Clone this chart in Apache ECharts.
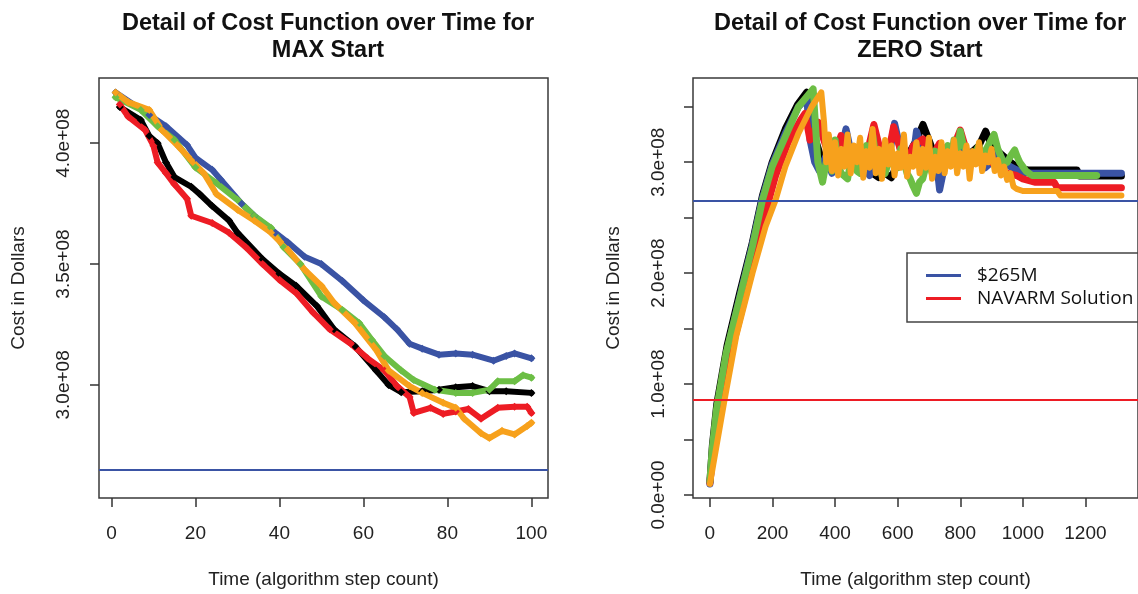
<!DOCTYPE html>
<html>
<head>
<meta charset="utf-8">
<script src="https://cdn.jsdelivr.net/npm/echarts@6/dist/echarts.min.js"></script>
<style>
  html, body { margin: 0; padding: 0; background: #fff; }
  #main { width: 1138px; height: 594px; }
</style>
</head>
<body>
<div id="main"></div>
<script>
// values in millions of dollars, x = algorithm step
var maxBlack = [[2,415],[7,409.6],[9,403],[11,400],[13,392],[15,386],[19,382],[21,379],[24,374],[28,368],[30,363],[36,352],[40,346],[44,341],[49,332.5],[53,323],[58,316],[63,306],[66,300],[69,297],[74,297.4],[78,298],[82,299],[86,299.5],[90,297.4],[94,297.4],[100,296.7]];
var maxRed = [[2,416],[4,411],[8,405.5],[10,399],[11,392],[13,387.6],[15,383],[18,377],[19,370],[24,367],[28,363],[32,357],[36,350],[40,343.5],[44,338],[48,330],[52,323],[57,317],[61,311],[65,306],[68,299.5],[71,295],[72,288.4],[76,290.5],[79,288],[82,289],[85,290],[88,286],[92,290.5],[96,291],[99,291],[100,288.4]];
var maxBlue = [[1,421],[9,411.7],[13,407],[18,399.3],[20,394],[24,389],[26,385],[31,375],[34,370],[39,363],[42,359],[46,353],[50,350],[55,343],[60,335],[65,328],[68,323],[71,317],[74,315],[78,312.5],[82,313],[86,312.5],[91,310],[94,312],[96,313],[100,311]];
var maxGreen = [[1,419],[7,413.8],[11,407],[15,401.4],[20,390],[25,383.5],[30,376.6],[34,370],[38,365],[41,357],[45,350],[50,336.6],[55,331],[59,325.6],[62,318.7],[65,312],[69,306],[72,302],[77,298],[82,296.7],[86,296.7],[90,298],[92,301.5],[96,301.5],[98,304],[100,303]];
var maxOrange = [[1,421],[4,417],[9,413.8],[12,405.5],[16,398.6],[19,393],[22,387.6],[25,379],[30,372.5],[34,368],[38,363],[42,356],[46,347.7],[50,341],[53,334],[58,325.6],[63,314.6],[66,306],[71,299.5],[74,296.7],[79,292.6],[82,290.5],[84,286],[88,280],[90,278],[93,281],[96,279.5],[99,283],[100,284.3]];

var zeroBlack = [[0,12],[8,45],[22,82],[55,135],[95,182],[136,228],[168,270],[199,300],[241,330],[280,352],[309,363],[320,330],[340,318],[360,300],[380,310],[400,295],[420,305],[440,300],[460,310],[480,295],[500,300],[520,290],[540,286],[560,290],[580,286],[600,300],[620,305],[640,310],[660,320],[681,334],[700,320],[720,305],[740,300],[760,310],[780,305],[800,315],[820,305],[840,310],[860,315],[881,328],[900,315],[920,310],[940,305],[960,300],[980,296],[1000,294],[1016,293],[1173,293],[1180,287.5],[1315,287.5]];
var zeroBlue = [[0,10],[10,45],[25,80],[55,130],[95,178],[136,226],[168,268],[199,298],[241,326],[283,350],[310,358],[320,320],[335,300],[350,292],[370,305],[390,290],[410,300],[435,330],[450,310],[470,295],[490,300],[510,288],[530,300],[550,310],[570,300],[590,335],[610,310],[630,295],[650,305],[660,328],[680,310],[700,300],[720,310],[734,275],[745,290],[760,305],[780,300],[800,315],[820,298],[840,300],[860,305],[880,295],[900,300],[920,310],[940,300],[960,296],[980,293],[1000,291],[1027,290],[1315,290]];
var zeroRed = [[0,11],[10,38],[30,75],[65,125],[105,170],[145,215],[178,255],[210,288],[250,318],[290,338],[304,344],[320,320],[346,336],[370,315],[390,300],[419,324],[440,305],[460,295],[480,315],[500,305],[524,334],[545,310],[565,300],[587,332],[610,310],[630,300],[650,315],[681,321],[700,300],[720,310],[734,317],[760,305],[780,315],[800,329],[820,310],[840,305],[860,300],[880,305],[900,300],[920,295],[950,290],[980,288],[1000,285],[1038,282],[1100,282],[1110,277],[1315,277]];
var zeroGreen = [[0,12],[7,40],[21,77],[52,128],[94,176],[136,224],[168,266],[199,296],[241,323],[283,350],[330,366],[345,300],[360,282],[375,305],[390,292],[400,320],[410,296],[420,290],[440,285],[450,300],[460,305],[470,292],[480,290],[490,305],[500,315],[510,298],[520,325],[530,305],[540,300],[550,288],[560,290],[570,300],[580,310],[590,295],[600,295],[610,312],[620,300],[630,290],[640,285],[650,278],[660,272],[670,282],[680,285],[690,296],[700,300],[710,290],[720,310],[730,298],[740,295],[750,308],[760,315],[770,300],[780,320],[790,310],[800,328],[810,315],[820,310],[830,298],[840,300],[850,310],[860,315],[870,302],[880,310],[895,318],[908,325],[920,312],[930,305],[940,298],[950,300],[962,306],[974,311],[982,305],[990,300],[1000,296],[1010,292],[1030,288],[1236,288]];
var zeroOrange = [[0,10],[47,86],[84,143],[136,200],[178,242],[210,266],[241,296],[283,326],[325,350],[356,363],[365,335],[372,300],[380,325],[390,292],[400,318],[410,288],[420,312],[430,296],[440,325],[450,290],[460,315],[470,300],[480,322],[490,286],[500,310],[510,295],[520,330],[530,290],[540,312],[550,285],[560,320],[570,298],[580,315],[590,288],[600,308],[610,295],[620,325],[630,287],[640,305],[650,296],[660,318],[670,290],[680,312],[690,295],[700,322],[710,285],[720,305],[730,292],[740,318],[750,290],[760,310],[770,296],[780,320],[790,290],[800,308],[810,296],[820,315],[830,285],[840,310],[850,298],[860,318],[870,292],[880,306],[890,300],[900,312],[910,292],[920,302],[930,288],[940,296],[950,284],[960,290],[970,278],[980,276],[1000,274],[1110,274],[1120,270],[1315,270]];

var target265 = 265;
var navarmSolution = 86;

var maxXTicks = [0, 20, 40, 60, 80, 100];
var maxYTicks = [300, 350, 400];
var maxYLabels = ['3.0e+08', '3.5e+08', '4.0e+08'];
var zeroXTicks = [0, 200, 400, 600, 800, 1000, 1200];
var zeroYTicks = [0, 50, 100, 150, 200, 250, 300, 350];
var zeroYLabelTicks = [0, 100, 200, 300];
var zeroYLabels = ['0.0e+00', '1.0e+08', '2.0e+08', '3.0e+08'];

var colors = { black: '#000000', red: '#ED1C24', blue: '#3A53A4', green: '#6CBE45', orange: '#F7A11C' };
var font = "'Liberation Sans', Arial, sans-serif";
var txt = '#222';

function xAxisOf(gridIndex, min, max, ticks) {
  return {
    type: 'value', gridIndex: gridIndex, min: min, max: max,
    name: 'Time (algorithm step count)', nameLocation: 'middle', nameGap: 72,
    nameTextStyle: { fontFamily: font, fontSize: 19, color: txt },
    axisLine: { show: false, onZero: false },
    axisTick: { show: true, length: 9, customValues: ticks, lineStyle: { color: '#333', width: 1.5 } },
    axisLabel: { customValues: ticks, margin: 26, fontFamily: font, fontSize: 19, color: txt,
      formatter: function (v) { return String(v); } },
    splitLine: { show: false }
  };
}
function yAxisOf(gridIndex, min, max, ticks, labelTicks, labels, gap, margin) {
  return {
    type: 'value', gridIndex: gridIndex, min: min, max: max,
    name: 'Cost in Dollars', nameLocation: 'middle', nameGap: gap,
    nameTextStyle: { fontFamily: font, fontSize: 19, color: txt },
    axisLine: { show: false, onZero: false },
    axisTick: { show: true, length: 9, customValues: ticks, lineStyle: { color: '#333', width: 1.5 } },
    axisLabel: {
      customValues: labelTicks, rotate: 90, margin: margin, fontFamily: font, fontSize: 19, color: txt,
      formatter: function (v) { return labels[labelTicks.indexOf(v)]; }
    },
    splitLine: { show: false }
  };
}
function pts(name, data, color, g, width, symbolSize) {
  return {
    type: 'line', name: name, xAxisIndex: g, yAxisIndex: g, data: data,
    symbol: 'diamond', symbolSize: symbolSize, showSymbol: symbolSize > 0,
    itemStyle: { color: color }, lineStyle: { color: color, width: width, cap: 'round', join: 'round' },
    silent: true
  };
}
function hline(name, value, color, g) {
  return {
    type: 'line', name: name, xAxisIndex: g, yAxisIndex: g, data: [], color: color,
    itemStyle: { color: color }, lineStyle: { color: color },
    markLine: {
      silent: true, symbol: ['none', 'none'], label: { show: false }, z: 10,
      lineStyle: { color: color, width: 2, type: 'solid' },
      data: [{ yAxis: value }]
    }
  };
}

var chart = echarts.init(document.getElementById('main'));
chart.setOption({
  animation: false,
  backgroundColor: '#fff',
  title: [
    { text: 'Detail of Cost Function over Time for\nMAX Start', left: 323, top: 5, textAlign: 'center',
      textStyle: { fontFamily: font, fontWeight: 'bold', fontSize: 23.5, lineHeight: 27, color: '#111' } },
    { text: 'Detail of Cost Function over Time for\nZERO Start', left: 915, top: 5, textAlign: 'center',
      textStyle: { fontFamily: font, fontWeight: 'bold', fontSize: 23.5, lineHeight: 27, color: '#111' } }
  ],
  legend: {
    data: ['$265M', 'NAVARM Solution'], orient: 'vertical', left: 907, top: 253,
    icon: 'rect', itemWidth: 35, itemHeight: 3, itemGap: 2,
    padding: [12, 30, 13, 19], borderColor: '#444', borderWidth: 1.5,
    textStyle: { fontFamily: 'Open Sans', fontSize: 19, color: '#111', lineHeight: 21, padding: [0, 0, 0, 11] },
    selectedMode: false
  },
  grid: [
    { left: 99, top: 78, width: 449, height: 420, show: true, borderColor: '#3a3a3a', borderWidth: 1.5 },
    { left: 693, top: 78, width: 452, height: 420, show: true, borderColor: '#3a3a3a', borderWidth: 1.5 }
  ],
  xAxis: [
    xAxisOf(0, -2.96, 103.96, maxXTicks),
    xAxisOf(1, -54, 1368, zeroXTicks)
  ],
  yAxis: [
    yAxisOf(0, 253.2, 427, maxYTicks, maxYTicks, maxYLabels, 71, 26),
    yAxisOf(1, -2.7, 375.9, zeroYTicks, zeroYLabelTicks, zeroYLabels, 70, 25)
  ],
  series: [
    pts('black', maxBlack, colors.black, 0, 6, 8),
    pts('blue', maxBlue, colors.blue, 0, 6, 8),
    pts('red', maxRed, colors.red, 0, 6, 8),
    pts('green', maxGreen, colors.green, 0, 6, 8),
    pts('orange', maxOrange, colors.orange, 0, 6, 8),
    hline('$265M', target265, colors.blue, 0),
    pts('black', zeroBlack, colors.black, 1, 7, 0),
    pts('blue', zeroBlue, colors.blue, 1, 7, 0),
    pts('red', zeroRed, colors.red, 1, 7, 0),
    pts('green', zeroGreen, colors.green, 1, 7, 0),
    pts('orange', zeroOrange, colors.orange, 1, 6, 0),
    hline('$265M', target265, colors.blue, 1),
    hline('NAVARM Solution', navarmSolution, colors.red, 1)
  ]
});
</script>
</body>
</html>
